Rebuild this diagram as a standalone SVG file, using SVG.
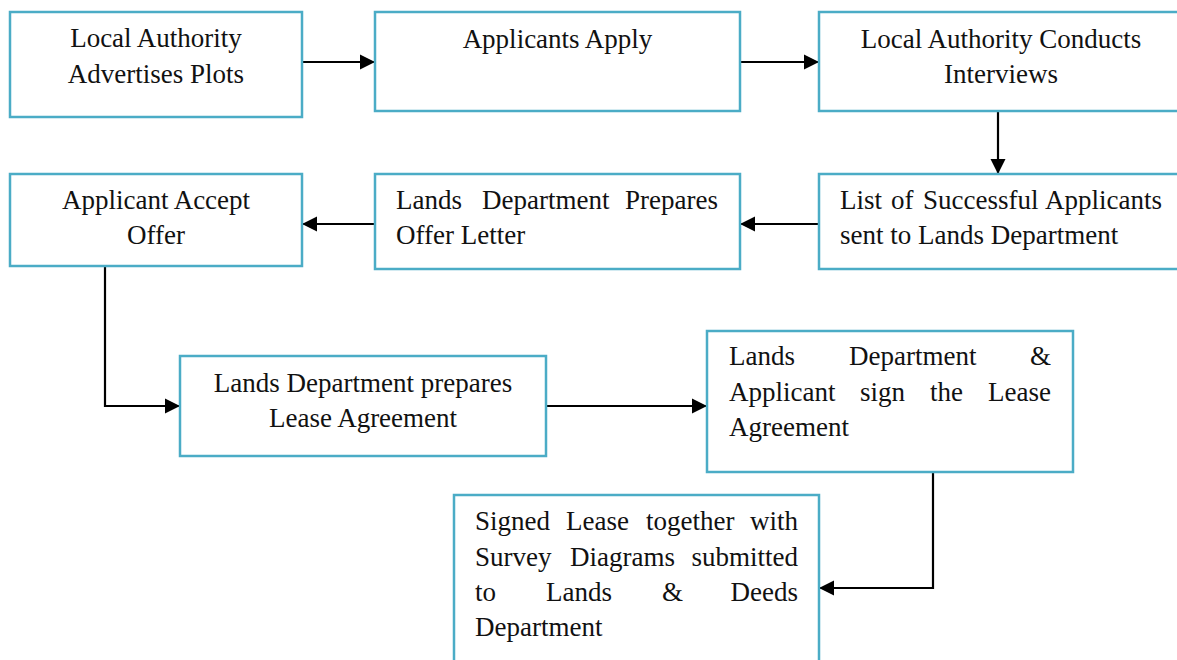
<svg xmlns="http://www.w3.org/2000/svg" width="1177" height="660" viewBox="0 0 1177 660">
<style>
.box{fill:#fff;stroke:#4BACC6;stroke-width:2.5}
.t{font-family:"Liberation Serif","Times New Roman",serif;font-size:27px;fill:#111}
.c{text-anchor:middle}
.e{text-anchor:end}
.conn{fill:none;stroke:#000;stroke-width:2.2;marker-end:url(#ah)}
</style>
<defs>
<marker id="ah" markerUnits="userSpaceOnUse" markerWidth="16" markerHeight="16" refX="15" refY="8" orient="auto">
<path d="M0,0.5 L15,8 L0,15.5 z" fill="#000"/>
</marker>
</defs>
<rect width="1177" height="660" fill="#fff"/>
<g id="connectors">
<path class="conn" d="M302,62 H375"/>
<path class="conn" d="M740,62 H819"/>
<path class="conn" d="M998,111 V174"/>
<path class="conn" d="M819,224 H740"/>
<path class="conn" d="M375,224 H302"/>
<path class="conn" d="M105,266 V406 H180"/>
<path class="conn" d="M546,406 H707"/>
<path class="conn" d="M933,472 V588 H819"/>
</g>
<g id="n1">
<rect class="box" x="10" y="12" width="292" height="105"/>
<text class="t c" x="156" y="47">Local Authority</text>
<text class="t c" x="156" y="83">Advertises Plots</text>
</g>
<g id="n2">
<rect class="box" x="375" y="12" width="365" height="99"/>
<text class="t c" x="557.5" y="48">Applicants Apply</text>
</g>
<g id="n3">
<rect class="box" x="819" y="12" width="365" height="99"/>
<text class="t c" x="1001" y="48">Local Authority Conducts</text>
<text class="t c" x="1001" y="83">Interviews</text>
</g>
<g id="n4">
<rect class="box" x="819" y="174" width="365" height="95"/>
<text class="t" x="840" y="209">List</text>
<text class="t" x="891" y="209">of</text>
<text class="t" x="923" y="209">Successful</text>
<text class="t e" x="1162" y="209">Applicants</text>
<text class="t" x="840" y="244">sent to Lands Department</text>
</g>
<g id="n5">
<rect class="box" x="375" y="174" width="365" height="95"/>
<text class="t" x="396" y="209">Lands</text>
<text class="t" x="482" y="209">Department</text>
<text class="t e" x="718" y="209">Prepares</text>
<text class="t" x="396" y="244">Offer Letter</text>
</g>
<g id="n6">
<rect class="box" x="10" y="174" width="292" height="92"/>
<text class="t c" x="156" y="209">Applicant Accept</text>
<text class="t c" x="156" y="244">Offer</text>
</g>
<g id="n7">
<rect class="box" x="180" y="356" width="366" height="100"/>
<text class="t c" x="363" y="392">Lands Department prepares</text>
<text class="t c" x="363" y="427">Lease Agreement</text>
</g>
<g id="n8">
<rect class="box" x="707" y="331" width="366" height="141"/>
<text class="t" x="729" y="365">Lands</text>
<text class="t" x="849" y="365">Department</text>
<text class="t e" x="1051" y="365">&amp;</text>
<text class="t" x="729" y="401">Applicant</text>
<text class="t" x="860" y="401">sign</text>
<text class="t" x="930" y="401">the</text>
<text class="t e" x="1051" y="401">Lease</text>
<text class="t" x="729" y="436">Agreement</text>
</g>
<g id="n9">
<rect class="box" x="454" y="495" width="365" height="200"/>
<text class="t" x="475" y="530">Signed</text>
<text class="t" x="566" y="530">Lease</text>
<text class="t" x="646" y="530">together</text>
<text class="t e" x="798" y="530">with</text>
<text class="t" x="475" y="566">Survey</text>
<text class="t" x="570" y="566">Diagrams</text>
<text class="t e" x="798" y="566">submitted</text>
<text class="t" x="475" y="601">to</text>
<text class="t" x="546" y="601">Lands</text>
<text class="t" x="662" y="601">&amp;</text>
<text class="t e" x="798" y="601">Deeds</text>
<text class="t" x="475" y="636">Department</text>
</g>
</svg>
